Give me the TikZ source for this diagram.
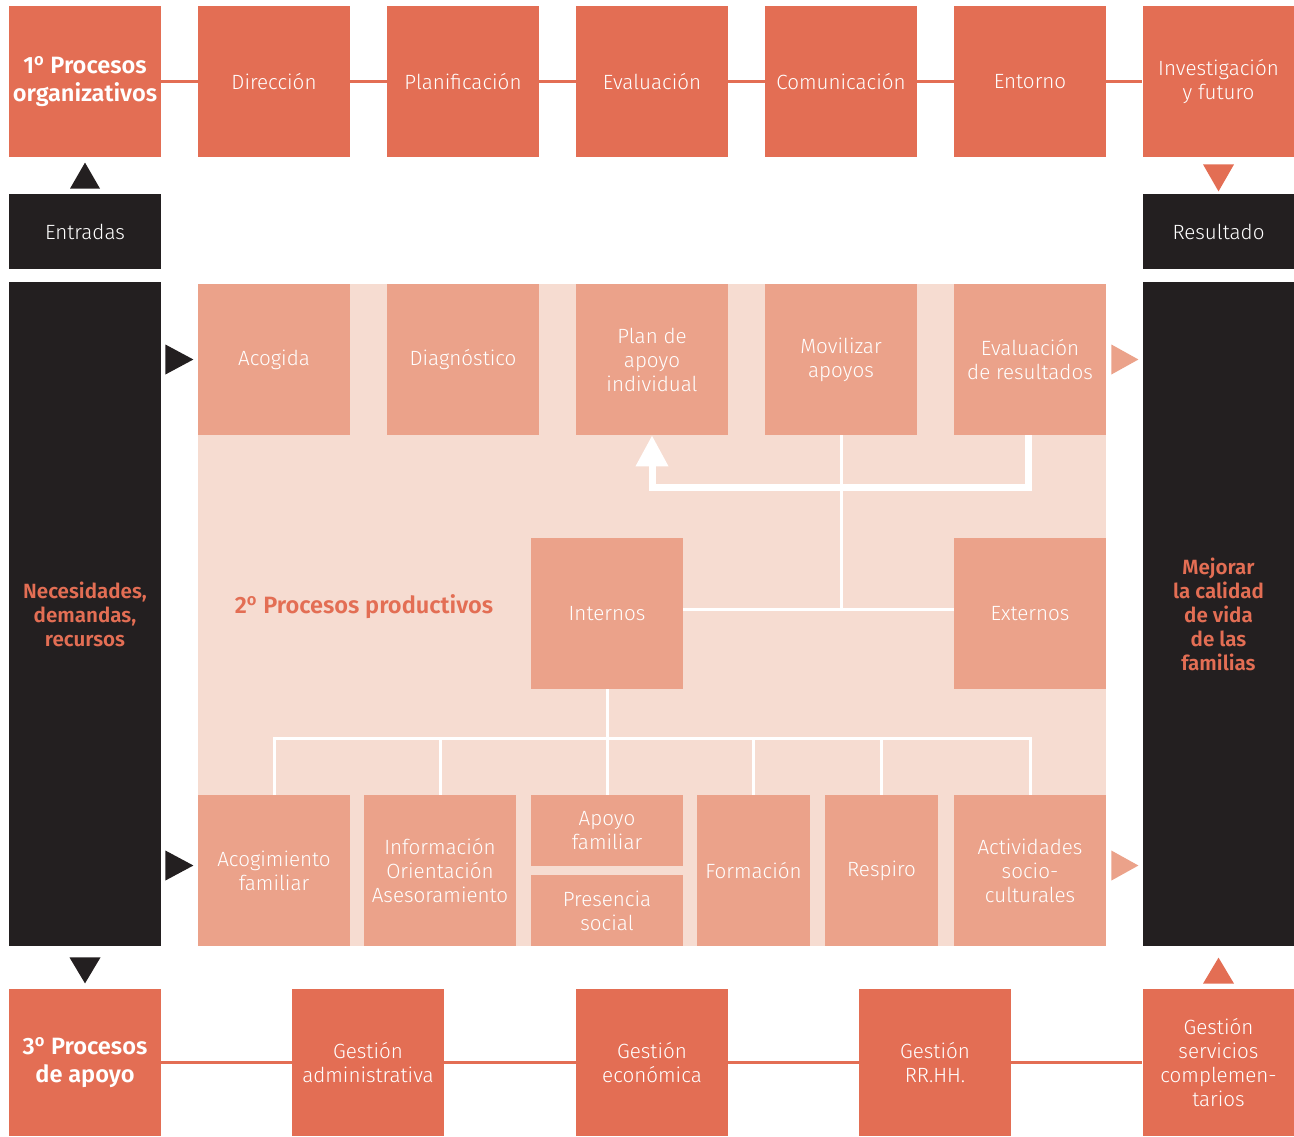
\documentclass[tikz,border=0pt]{standalone}
\usepackage{fontspec}
\setmainfont{Fira Sans}[UprightFont=* Light, BoldFont=* SemiBold]
\usetikzlibrary{calc,arrows.meta}
\definecolor{orgc}{HTML}{E36E54}
\definecolor{palec}{HTML}{EBA28A}
\definecolor{bgc}{HTML}{F6DCD1}
\definecolor{blkc}{HTML}{231F20}
\tikzset{
  box/.style={minimum width=76pt, minimum height=75.5pt, inner sep=0pt, align=center,
    text=white, font=\fontsize{10.3}{12}\selectfont},
  org/.style={box, fill=orgc},
  pale/.style={box, fill=palec},
  blk/.style={box, fill=blkc},
  hd/.style={font=\fontsize{11.8}{14}\selectfont\bfseries},
  link/.style={draw=orgc, line width=1.5pt},
  wire/.style={draw=white, line width=1.5pt},
}

\begin{document}
\begin{tikzpicture}[x=0.5pt,y=-0.5pt]
	\useasboundingbox (0,0) rectangle (1294,1136);
	\fill[bgc] (198,284) rectangle (1106,946);
	\node[org,hd] (p1) at (85,81.5) {1\textsuperscript{o} Procesos\\organizativos};
	\node[org] (p2) at (274,81.5) {Dirección};
	\node[org] (p3) at (463,81.5) {Planificación};
	\node[org] (p4) at (652,81.5) {Evaluación};
	\node[org] (p5) at (841,81.5) {Comunicación};
	\node[org] (p6) at (1030,81.5) {Entorno};
	\node[org] (p7) at (1218.5,81.5) {Investigación\\y futuro};
	\node[blk,minimum height=37.5pt] (ent) at (85,231.5) {Entradas};
	\node[blk,minimum height=37.5pt] (res) at (1218.5,231.5) {Resultado};
	\node[blk,minimum height=332pt,text=orgc,font=\fontsize{10.3}{12}\selectfont\bfseries] (nec) at (85,614) {Necesidades,\\demandas,\\recursos};
	\node[blk,minimum height=332pt,text=orgc,font=\fontsize{10.3}{12}\selectfont\bfseries] (mej) at (1218.5,614) {Mejorar\\la calidad\\de vida\\de las\\familias};
	\node[pale] (aco) at (274,359.5) {Acogida};
	\node[pale] (dia) at (463,359.5) {Diagnóstico};
	\node[pale] (pla) at (652,359.5) {Plan de\\apoyo\\individual};
	\node[pale] (mov) at (841,359.5) {Movilizar\\apoyos};
	\node[pale] (evr) at (1030,359.5) {Evaluación\\de resultados};
	\node[hd,text=orgc] (ttl) at (364,607) {2\textsuperscript{o} Procesos productivos};
	\node[pale] (int) at (607,613.5) {Internos};
	\node[pale] (ext) at (1030,613.5) {Externos};
	\node[pale] (acf) at (274,870.5) {Acogimiento\\familiar};
	\node[pale] (inf) at (440,870.5) {Información\\Orientación\\Asesoramiento};
	\node[pale,minimum height=35.5pt] (apf) at (607,830.5) {Apoyo\\familiar};
	\node[pale,minimum height=35.5pt] (pre) at (607,910.5) {Presencia\\social};
	\node[pale,minimum width=56.5pt] (frm) at (753.5,870.5) {Formación};
	\node[pale,minimum width=56.5pt] (rsp) at (881.5,870.5) {Respiro};
	\node[pale] (act) at (1030,870.5) {Actividades\\socio-\\culturales};
	\node[org,hd,minimum height=73.5pt] (q1) at (85,1062.5) {3\textsuperscript{o} Procesos\\de apoyo};
	\node[org,minimum height=73.5pt] (q2) at (368,1062.5) {Gestión\\administrativa};
	\node[org,minimum height=73.5pt] (q3) at (652,1062.5) {Gestión\\económica};
	\node[org,minimum height=73.5pt] (q4) at (935,1062.5) {Gestión\\RR.HH.};
	\node[org,minimum height=73.5pt] (q5) at (1218.5,1062.5) {Gestión\\servicios\\complemen-\\tarios};
	\draw[link] (p1) -- (p2) (p2) -- (p3) (p3) -- (p4) (p4) -- (p5) (p5) -- (p6) (p6) -- (p7);
	\draw[link] (q1) -- (q2) (q2) -- (q3) (q3) -- (q4) (q4) -- (q5);
	\fill[blkc] ($(ent.north)+(-15,-5)$) -- ++(30,0) -- ++(-15,-26) -- cycle;
	\fill[orgc] ($(p7.south)+(-15.5,7)$) -- ++(31,0) -- ++(-15.5,27) -- cycle;
	\fill[blkc] ($(nec.east |- aco)+(4,-15)$) -- ++(0,30) -- ++(28,-15) -- cycle;
	\fill[palec] ($(evr.east)+(5,-15)$) -- ++(0,30) -- ++(27,-15) -- cycle;
	\fill[blkc] ($(nec.east |- acf)+(4,-20)$) -- ++(0,30) -- ++(28,-15) -- cycle;
	\fill[palec] ($(act.east)+(5,-20)$) -- ++(0,30) -- ++(27,-15) -- cycle;
	\fill[blkc] ($(nec.south)+(-15.5,11)$) -- ++(31,0) -- ++(-15.5,26) -- cycle;
	\fill[orgc] ($(q5.north)+(-15.5,-5)$) -- ++(31,0) -- ++(-15.5,-26) -- cycle;
	\coordinate (mid) at ($(int.east)+(0,-4)$);
	\draw[wire] (mid) -- (mid -| ext.west);
	\draw[wire] (mov) -- (mov |- mid);
	\draw[white,line width=3.5pt,-{Triangle[width=15.5pt,length=15.5pt]}] ($(evr.south)+(-2,0)$) |- ($(pla.south)+(0,52)$) -- (pla.south);
	\coordinate (hub) at (607,738);
	\draw[wire] (int) -- (hub);
	\draw[wire,line cap=rect] (acf.north |- hub) -- (act.north |- hub);
	\foreach \n in {acf,inf,apf,frm,rsp,act}
		\draw[wire] (\n) -- (\n |- hub);
\end{tikzpicture}
\end{document}
